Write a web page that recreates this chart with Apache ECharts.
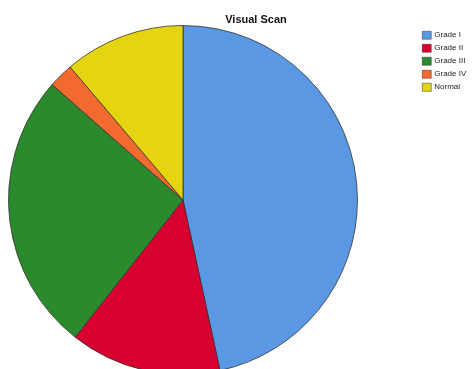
<!DOCTYPE html>
<html><head><meta charset="utf-8">
<script src="https://cdn.jsdelivr.net/npm/echarts@6/dist/echarts.min.js"></script>
<style>html,body{margin:0;padding:0;background:#fff}#c{width:473px;height:369px}</style>
</head><body><div id="c"></div>
<script>
const categories = ["Grade I", "Grade II", "Grade III", "Grade IV", "Normal"];
const values = [46.6, 14.0, 25.9, 2.3, 11.2];
const colors = ["#5a98e4", "#d8002e", "#2b8a2b", "#f26a30", "#e4d510"];
const chart = echarts.init(document.getElementById('c'));
chart.setOption({
  animation: false,
  title: {text: "Visual Scan", left: 251, top: 9, textAlign: 'center',
    textStyle: {fontFamily: 'Liberation Sans', fontSize: 11, fontWeight: 'bold', color: '#111'}},
  legend: {orient: 'vertical', left: 417, top: 26, itemWidth: 9, itemHeight: 8, itemGap: 4.5,
    icon: 'rect', data: categories,
    itemStyle: {borderColor: '#333', borderWidth: 0.5},
    textStyle: {fontFamily: 'Liberation Sans', fontSize: 8, color: '#222', padding: [0,0,0,-2]}},
  series: [{
    type: 'pie', center: [183, 200], radius: 174.5, startAngle: 90, clockwise: true,
    label: {show: false}, labelLine: {show: false},
    itemStyle: {borderColor: '#333', borderWidth: 0.8},
    emphasis: {disabled: true},
    data: categories.map((n, i) => ({name: n, value: values[i], itemStyle: {color: colors[i]}}))
  }]
});
</script></body></html>
